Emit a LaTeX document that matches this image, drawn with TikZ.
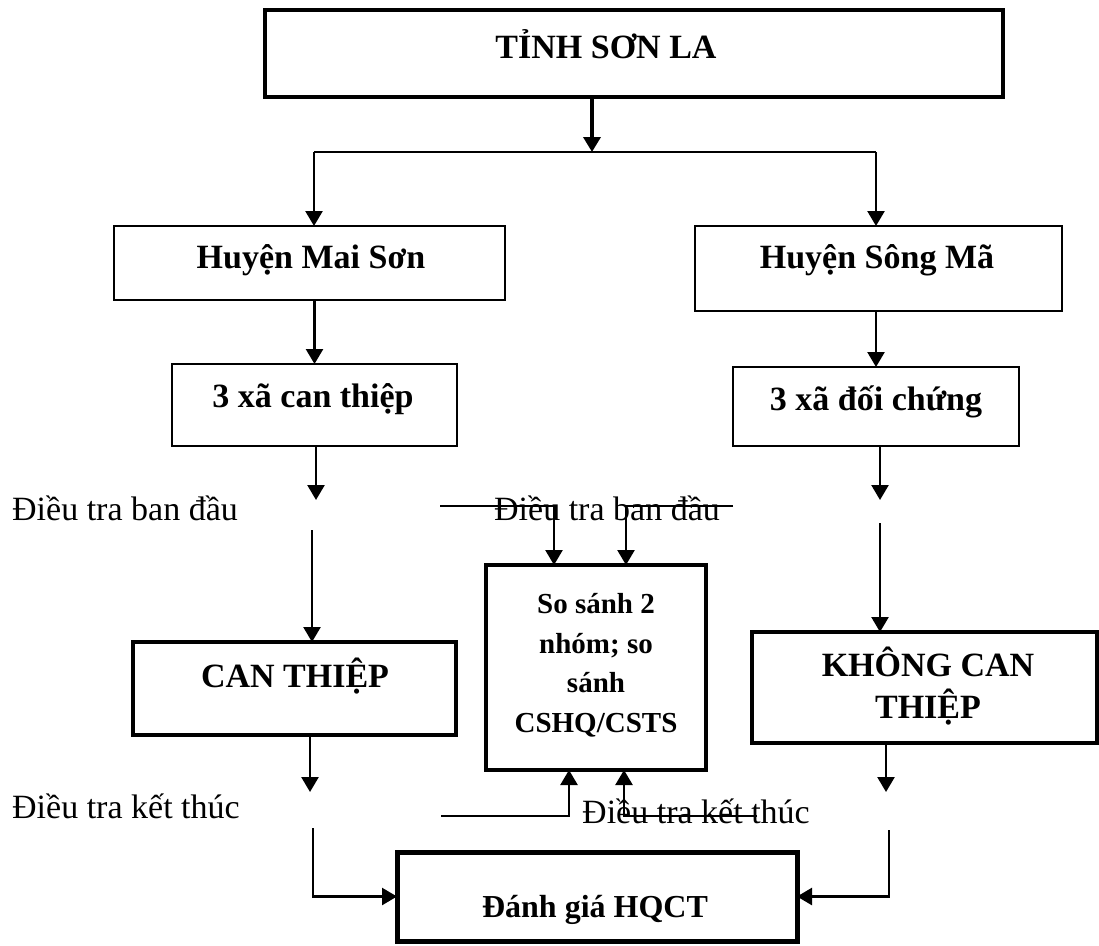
\documentclass[tikz,border=0pt]{standalone}
\usepackage{fontspec}
\setmainfont{Liberation Serif}
\usetikzlibrary{arrows.meta}
\begin{document}
\begin{tikzpicture}[x=1pt,y=-1pt,
  boxthin/.style={draw, line width=2pt, inner sep=0pt, outer sep=0pt},
  boxthick/.style={draw, line width=4pt, inner sep=0pt, outer sep=0pt},
  boxheavy/.style={draw, line width=5pt, inner sep=0pt, outer sep=0pt},
  lbl/.style={inner sep=0pt, anchor=base, font=\fontsize{34}{39}\selectfont},
  blbl/.style={inner sep=0pt, anchor=base, font=\fontsize{34}{39}\selectfont\bfseries},
  slbl/.style={inner sep=0pt, anchor=base, font=\fontsize{29}{34}\selectfont\bfseries},
  conn/.style={line width=2pt},
  arr/.style={line width=2.5pt, -{Triangle[length=15pt,width=17pt]}},
]
\useasboundingbox (0,0) rectangle (1099,945);

% boxes
\node[boxthick, minimum width=738pt, minimum height=87pt] (top) at (634,53.5) {};
\node[boxthin, minimum width=391pt, minimum height=74pt] (ms) at (309.5,263) {};
\node[boxthin, minimum width=367pt, minimum height=85pt] (sm) at (878.5,268.5) {};
\node[boxthin, minimum width=285pt, minimum height=82pt] (xct) at (314.5,405) {};
\node[boxthin, minimum width=286pt, minimum height=79pt] (xdc) at (876,406.5) {};
\node[boxthick, minimum width=323pt, minimum height=93pt] (ct) at (294.5,688.5) {};
\node[boxthick, minimum width=345pt, minimum height=111pt] (kct) at (924.5,687.5) {};
\node[boxthick, minimum width=220pt, minimum height=205pt] (ss) at (596,667.5) {};
\node[boxheavy, minimum width=400pt, minimum height=89pt] (dg) at (597,896.5) {};

% box texts
\node[blbl] (topt) at (606,58) {TỈNH SƠN LA};
\node[blbl] (mst) at (311,268) {Huyện Mai Sơn};
\node[blbl] (smt) at (877,268) {Huyện Sông Mã};
\node[blbl] (xctt) at (313,407) {3 xã can thiệp};
\node[blbl] (xdct) at (876,410) {3 xã đối chứng};
\node[blbl] (ctt) at (295,687) {CAN THIỆP};
\node[blbl] (kcta) at (928,676) {KHÔNG CAN};
\node[blbl] (kctb) at (928,718) {THIỆP};
\node[slbl] (ssa) at (596,613) {So sánh 2};
\node[slbl] (ssb) at (596,653) {nhóm; so};
\node[slbl] (ssc) at (596,692) {sánh};
\node[slbl] (ssd) at (596,732) {CSHQ/CSTS};
\node[inner sep=0pt, anchor=base, font=\fontsize{32}{37}\selectfont\bfseries] (dgt) at (595,917) {Đánh giá HQCT};

% survey labels
\node[lbl, anchor=base west] (dtl1) at (12,520) {Điều tra ban đầu};
\node[lbl, anchor=base west] (dtl2) at (12,818) {Điều tra kết thúc};
\node[lbl] (dtm1) at (607,520) {Điều tra ban đầu};
\node[lbl] (dtm2) at (696,823) {Điều tra kết thúc};

% free ends of the connectors
\coordinate (j) at (592,152);
\coordinate (bl) at (314,152);
\coordinate (br) at (876,152);
\coordinate (a1) at (316,500);
\coordinate (a2) at (312,530);
\coordinate (a3) at (310,792);
\coordinate (a4) at (313,828);
\coordinate (b1) at (880,500);
\coordinate (b2) at (880,523);
\coordinate (b3) at (886,792);
\coordinate (b4) at (889,830);
\coordinate (m1) at (440,506);
\coordinate (m2) at (733,506);
\coordinate (m3) at (441,816);
\coordinate (m4) at (757,816);

% province to districts
\draw[line width=3.5pt, -{Triangle[length=15pt,width=17pt]}] (j |- top.south) -- (j);
\draw[conn] (bl) -- (br);
\draw[arr] (bl) -- (bl |- ms.north);
\draw[arr] (br) -- (br |- sm.north);

% districts to communes
\draw[arr] (ms.south -| xct.north) -- (xct.north);
\draw[arr] (sm.south -| xdc.north) -- (xdc.north);

% left column
\draw[arr] (xct.south -| a1) -- (a1);
\draw[arr] (a2) -- (a2 |- ct.north);
\draw[arr] (ct.south -| a3) -- (a3);
\draw[arr] (a4) |- (dg.west);

% right column
\draw[arr] (xdc.south -| b1) -- (b1);
\draw[arr] (b2) -- (b2 |- kct.north);
\draw[arr] (kct.south -| b3) -- (b3);
\draw[arr] (b4) |- (dg.east);

% comparison box inputs
\draw[arr] (m1) -| ([xshift=-42pt]ss.north);
\draw[arr] (m2) -| ([xshift=30pt]ss.north);
\draw[arr] (m3) -| ([xshift=-27pt]ss.south);
\draw[arr] (m4) -| ([xshift=28pt]ss.south);
\end{tikzpicture}
\end{document}
